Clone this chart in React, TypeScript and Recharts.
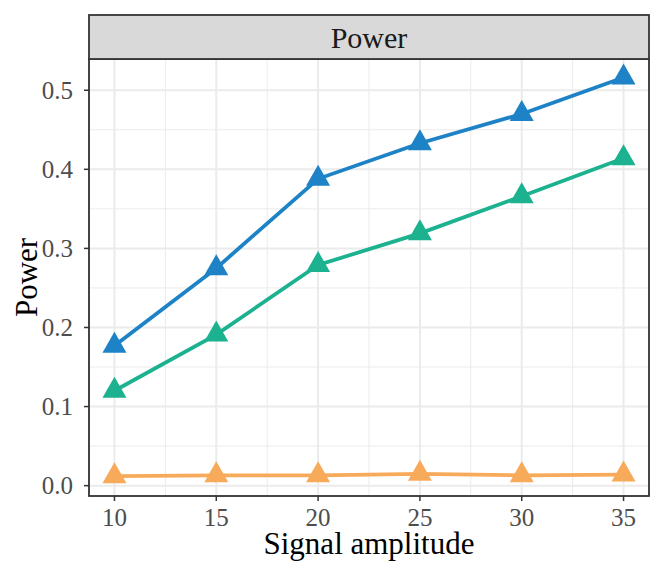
import { CartesianGrid, Line, LineChart, ReferenceLine, XAxis, YAxis } from "recharts";

const amplitude = [10, 15, 20, 25, 30, 35];
const powerBlue = [0.177, 0.275, 0.388, 0.433, 0.47, 0.516];
const powerGreen = [0.12, 0.191, 0.279, 0.319, 0.366, 0.414];
const powerOrange = [0.012, 0.013, 0.013, 0.015, 0.013, 0.014];

const xTicks = [10, 15, 20, 25, 30, 35];
const xMinor = [12.5, 17.5, 22.5, 27.5, 32.5];
const yTicks = [0, 0.1, 0.2, 0.3, 0.4, 0.5];
const yMinor = [0.05, 0.15, 0.25, 0.35, 0.45];

const rows = amplitude.map((a, i) => ({
  amp: a,
  blue: powerBlue[i],
  green: powerGreen[i],
  orange: powerOrange[i],
}));

const FONT = "'Liberation Serif', 'DejaVu Serif', serif";

const W = 664;
const H = 570;
const LEFT = 89;
const RIGHT = 649;
const TOP = 59;
const BOTTOM = 496;

function Triangle(color: string) {
  return (props: any) => {
    const { cx, cy, index } = props;
    if (cx == null || cy == null) return <g key={index} />;
    const w = 12;
    return (
      <polygon
        key={index}
        points={`${cx},${cy - 14} ${cx - w},${cy + 7} ${cx + w},${cy + 7}`}
        fill={color}
      />
    );
  };
}

function XTick(props: any) {
  const { x, payload } = props;
  return (
    <text
      x={x}
      y={BOTTOM + 30}
      textAnchor="middle"
      style={{ fontFamily: FONT, fontSize: 25, fill: "#4D4D4D" }}
    >
      {payload.value}
    </text>
  );
}

function YTick(props: any) {
  const { y, payload } = props;
  return (
    <text
      x={LEFT - 16}
      y={y + 8.5}
      textAnchor="end"
      style={{ fontFamily: FONT, fontSize: 25, fill: "#4D4D4D" }}
    >
      {Number(payload.value).toFixed(1)}
    </text>
  );
}

const series = [
  { key: "orange", color: "#F8AA5B" },
  { key: "green", color: "#1CB18F" },
  { key: "blue", color: "#1D83C6" },
];

export default function App() {
  return (
    <div style={{ position: "absolute", left: 0, top: 0, width: W, height: H, background: "#fff" }}>
      <LineChart
        width={W}
        height={H}
        data={rows}
        margin={{ top: TOP, right: W - RIGHT, bottom: 0, left: 0 }}
      >
        <CartesianGrid stroke="#EBEBEB" strokeWidth={2} />
        {xMinor.map((v) => (
          <ReferenceLine key={"xm" + v} x={v} stroke="#EBEBEB" strokeWidth={1} />
        ))}
        {yMinor.map((v) => (
          <ReferenceLine key={"ym" + v} y={v} stroke="#EBEBEB" strokeWidth={1} />
        ))}
        <XAxis
          dataKey="amp"
          type="number"
          domain={[8.75, 36.25]}
          ticks={xTicks}
          height={H - BOTTOM}
          axisLine={false}
          tickLine={{ stroke: "#333", strokeWidth: 1.5 }}
          tickSize={5}
          tick={XTick}
        />
        <YAxis
          type="number"
          domain={[-0.0131, 0.5395]}
          ticks={yTicks}
          width={LEFT}
          axisLine={false}
          tickLine={{ stroke: "#333", strokeWidth: 1.5 }}
          tickSize={5}
          tick={YTick}
        />
        {series.map((s) => (
          <Line
            key={s.key}
            dataKey={s.key}
            stroke={s.color}
            strokeWidth={3.8}
            dot={Triangle(s.color)}
            activeDot={false}
            isAnimationActive={false}
          />
        ))}
      </LineChart>
      <svg
        width={W}
        height={H}
        style={{ position: "absolute", left: 0, top: 0, pointerEvents: "none" }}
      >
        <rect
          x={LEFT}
          y={TOP}
          width={RIGHT - LEFT}
          height={BOTTOM - TOP}
          fill="none"
          stroke="#333"
          strokeWidth={1.8}
        />
        <rect
          x={LEFT}
          y={15}
          width={RIGHT - LEFT}
          height={TOP - 15}
          fill="#D9D9D9"
          stroke="#333"
          strokeWidth={1.8}
        />
        <text
          x={(LEFT + RIGHT) / 2}
          y={48}
          textAnchor="middle"
          fontFamily={FONT}
          fontSize={30}
          fill="#1A1A1A"
        >
          Power
        </text>
        <text
          x={(LEFT + RIGHT) / 2}
          y={554}
          textAnchor="middle"
          fontFamily={FONT}
          fontSize={31}
          fill="#000"
        >
          Signal amplitude
        </text>
        <text
          x={0}
          y={0}
          transform={`translate(37, ${(TOP + BOTTOM) / 2}) rotate(-90)`}
          textAnchor="middle"
          fontFamily={FONT}
          fontSize={31}
          fill="#000"
        >
          Power
        </text>
      </svg>
    </div>
  );
}
